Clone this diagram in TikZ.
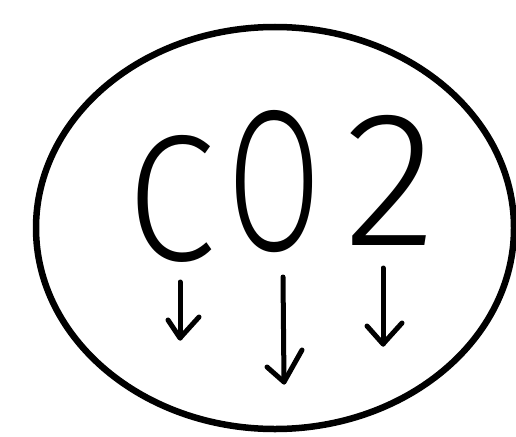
\documentclass[tikz,border=0pt]{standalone}
\usepackage{graphicx}
\usepackage{fontspec}
\usetikzlibrary{shapes.geometric}
\setmainfont{Fira Sans}[UprightFont={* Light}]
\begin{document}
\begin{tikzpicture}[x=1pt,y=-1pt,
  ink/.style={line width=5pt,line cap=round,line join=round,black},
  letter/.style={inner sep=0pt,outer sep=0pt,anchor=center}]
\useasboundingbox (0,0) rectangle (516,436);
% outer ellipse
\node[draw,line width=6.5pt,ellipse,minimum width=478pt,minimum height=402pt,inner sep=0pt] (shell) at (275,228) {};
% handwritten-style text
\node[letter] (c) at (171,199) {\resizebox{88pt}{125pt}{C}};
\node[letter] (o) at (275,182) {\resizebox{94pt}{140pt}{O}};
\node[letter] (two) at (391,180) {\resizebox{92pt}{130pt}{2}};
% arrows
\coordinate (a1s) at (180,282); \coordinate (a1e) at (180,338);
\coordinate (a1l) at (168,320); \coordinate (a1r) at (199,317);
\coordinate (a2s) at (283,277); \coordinate (a2e) at (284,382);
\coordinate (a2l) at (267,367); \coordinate (a2r) at (302,350);
\coordinate (a3s) at (383,268); \coordinate (a3e) at (383,344);
\coordinate (a3l) at (367,326); \coordinate (a3r) at (402,323);
\draw[ink] (a1s) -- (a1e);
\draw[ink] (a1l) -- (a1e) -- (a1r);
\draw[ink] (a2s) -- (a2e);
\draw[ink] (a2l) -- (a2e) -- (a2r);
\draw[ink] (a3s) -- (a3e);
\draw[ink] (a3l) -- (a3e) -- (a3r);
\end{tikzpicture}
\end{document}
